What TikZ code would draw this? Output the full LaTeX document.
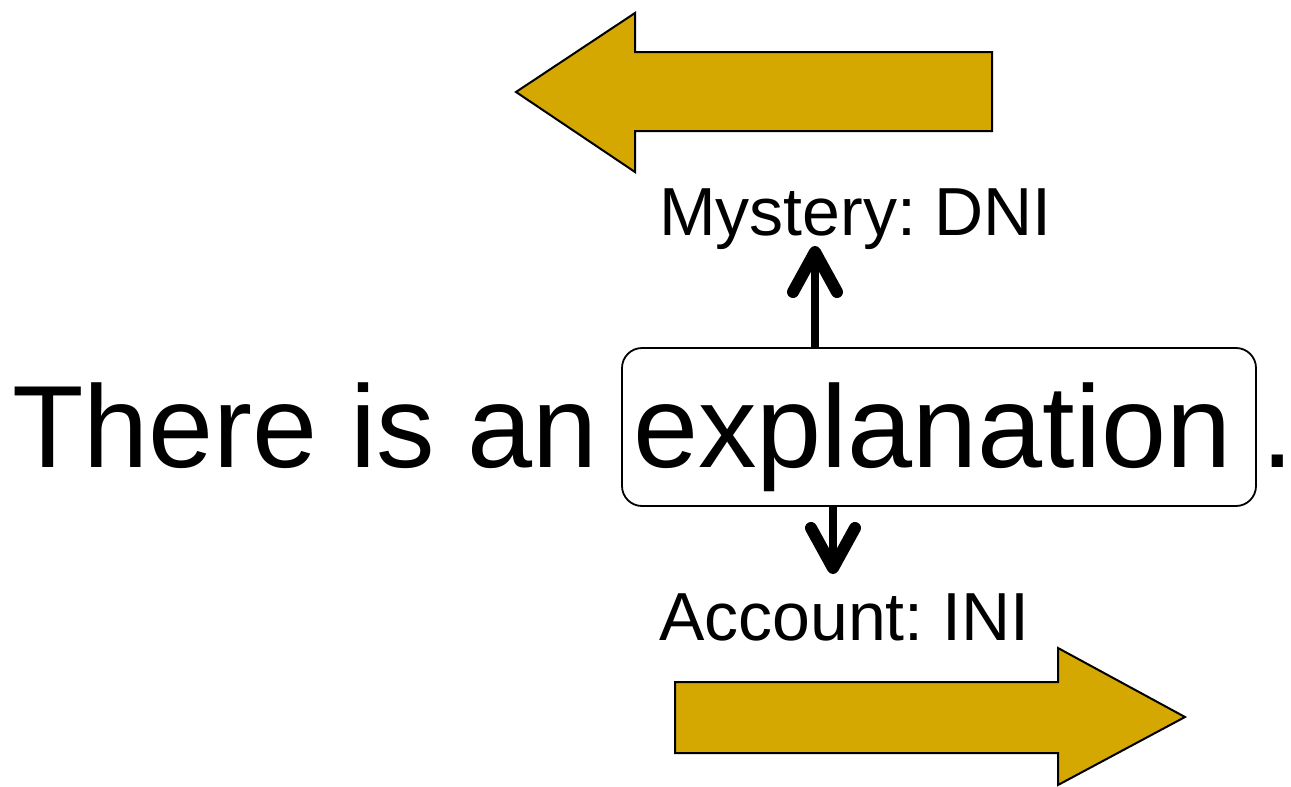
\documentclass[tikz,border=0pt]{standalone}
\usepackage{fontspec}
\setmainfont{Liberation Sans}
\usetikzlibrary{arrows.meta}
\definecolor{gold}{RGB}{212,168,0}
\tikzset{
  big/.style={font=\fontsize{117}{130}\selectfont, inner sep=0pt, anchor=base west},
  lab/.style={font=\fontsize{68}{80}\selectfont, inner sep=0pt, anchor=base west},
  wordbox/.style={draw, line width=1.8pt, rounded corners=20pt, minimum width=634pt, minimum height=158pt, inner sep=0pt},
  conn/.style={line width=8pt, -{Straight Barb[length=40pt, width=44pt, line width=12pt, line cap=round, line join=round]}},
  fatarrow/.style={draw=black, fill=gold, line width=2pt, line join=miter}
}
\begin{document}
\begin{tikzpicture}[x=1pt, y=-1pt]
\useasboundingbox (0,0) rectangle (1291,787);
% large arrows
\draw[fatarrow] (516,92) -- (635,13) -- (635,52) -- (992,52) -- (992,131) -- (635,131) -- (635,172) -- cycle;
\draw[fatarrow] (675,682) -- (1058,682) -- (1058,648) -- (1185,717) -- (1058,785) -- (1058,753) -- (675,753) -- cycle;
% sentence
\node[big] (there) at (12,467) {There is an};
\node[wordbox] (box) at (939,427) {};
\node[big] (expl) at (633,467) {explanation};
\node[big] (dot) at (1261,467) {.};
% labels
\node[lab] (mys) at (659,235) {Mystery:\hspace{-0.1em} DNI};
\node[lab] (acc) at (659,640) {Account:\hspace{-0.1em} INI};
% connectors
\coordinate (upend) at (815,246);
\coordinate (downend) at (833,574);
\draw[conn] (upend |- box.north) -- (upend);
\draw[conn] (downend |- box.south) -- (downend);
\end{tikzpicture}
\end{document}
